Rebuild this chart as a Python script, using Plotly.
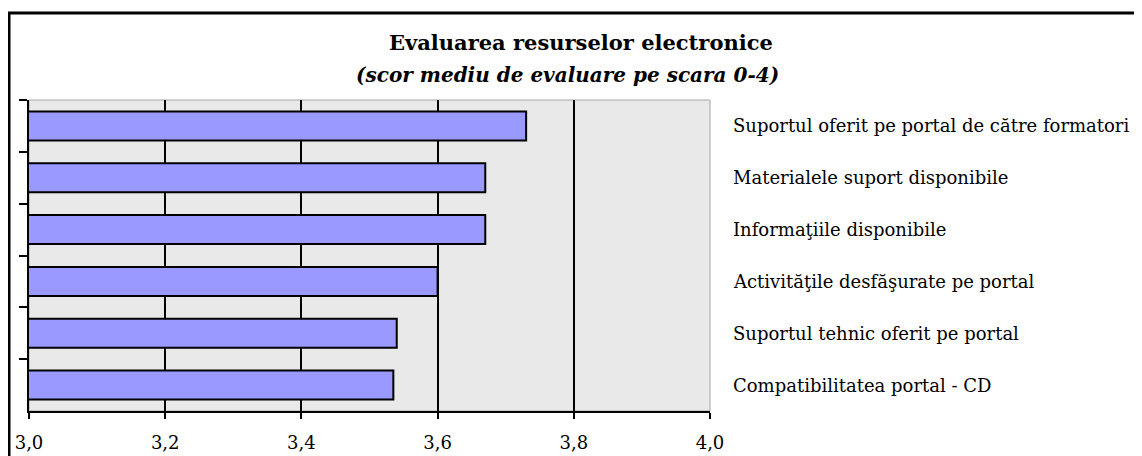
import plotly.graph_objects as go

# data
categories = ["Suportul oferit pe portal de către formatori",
              "Materialele suport disponibile",
              "Informaţiile disponibile",
              "Activităţile desfăşurate pe portal",
              "Suportul tehnic oferit pe portal",
              "Compatibilitatea portal - CD"]
scores = [3.73, 3.67, 3.67, 3.60, 3.54, 3.535]

title_text = "Evaluarea resurselor electronice"
subtitle_text = "(scor mediu de evaluare pe scara 0-4)"

serif = "DejaVu Serif"

fig = go.Figure()
fig.add_trace(go.Bar(
    x=scores, y=categories, orientation="h", width=0.56,
    marker=dict(color="#9999FF", line=dict(color="black", width=2)),
    hoverinfo="x+y"
))

# category labels to the right of the plot area
for cat in categories:
    fig.add_annotation(x=1, xref="paper", y=cat, yref="y",
                       text=cat, showarrow=False, xanchor="left", xshift=21,
                       font=dict(family=serif, size=18, color="black"))

# title and subtitle
fig.add_annotation(x=(581 - 29)/681, xref="paper", y=(411 - 42)/311, yref="paper",
                   text="<b>" + title_text + "</b>", showarrow=False,
                   xanchor="center", yanchor="middle",
                   font=dict(family=serif, size=21, color="black"))
fig.add_annotation(x=(567 - 29)/681, xref="paper", y=(411 - 75)/311, yref="paper",
                   text="<b><i>" + subtitle_text + "</i></b>", showarrow=False,
                   xanchor="center", yanchor="middle",
                   font=dict(family=serif, size=20, color="black"))

fig.update_layout(
    width=1142, height=456,
    margin=dict(l=21, r=440, t=92, b=53, autoexpand=False),
    paper_bgcolor="white", plot_bgcolor="#E9E9E9",
    separators=", ",
    showlegend=False,
    font=dict(family=serif, size=18, color="black"),
)

fig.update_xaxes(range=[3, 4], tick0=3, dtick=0.2, tickformat=".1f",
                 ticks="outside", ticklen=6, tickwidth=2, tickcolor="black",
                 ticklabelstandoff=8,
                 showline=True, linewidth=2, linecolor="black",
                 showgrid=True, gridcolor="black", gridwidth=2,
                 zeroline=False, fixedrange=True, automargin=False,
                 tickfont=dict(family=serif, size=18, color="black"))
fig.update_yaxes(type="category", categoryorder="array", categoryarray=categories,
                 autorange="reversed", tickson="boundaries",
                 ticks="outside", ticklen=8, tickwidth=2, tickcolor="black",
                 showticklabels=False, showline=True, linewidth=2, linecolor="black",
                 showgrid=False, fixedrange=True, automargin=False)

# light grey frame of the plot area and black outer frame of the chart
fig.add_shape(type="rect", xref="paper", yref="paper", x0=0, x1=1, y0=0, y1=1,
              line=dict(color="#A6A6A6", width=1), layer="below")
fig.add_shape(type="rect", xref="paper", yref="paper",
              x0=(9 - 29)/681, x1=1.7, y0=-0.3, y1=(411 - 13)/311,
              line=dict(color="black", width=3), layer="above")

fig.write_html("out.html")
